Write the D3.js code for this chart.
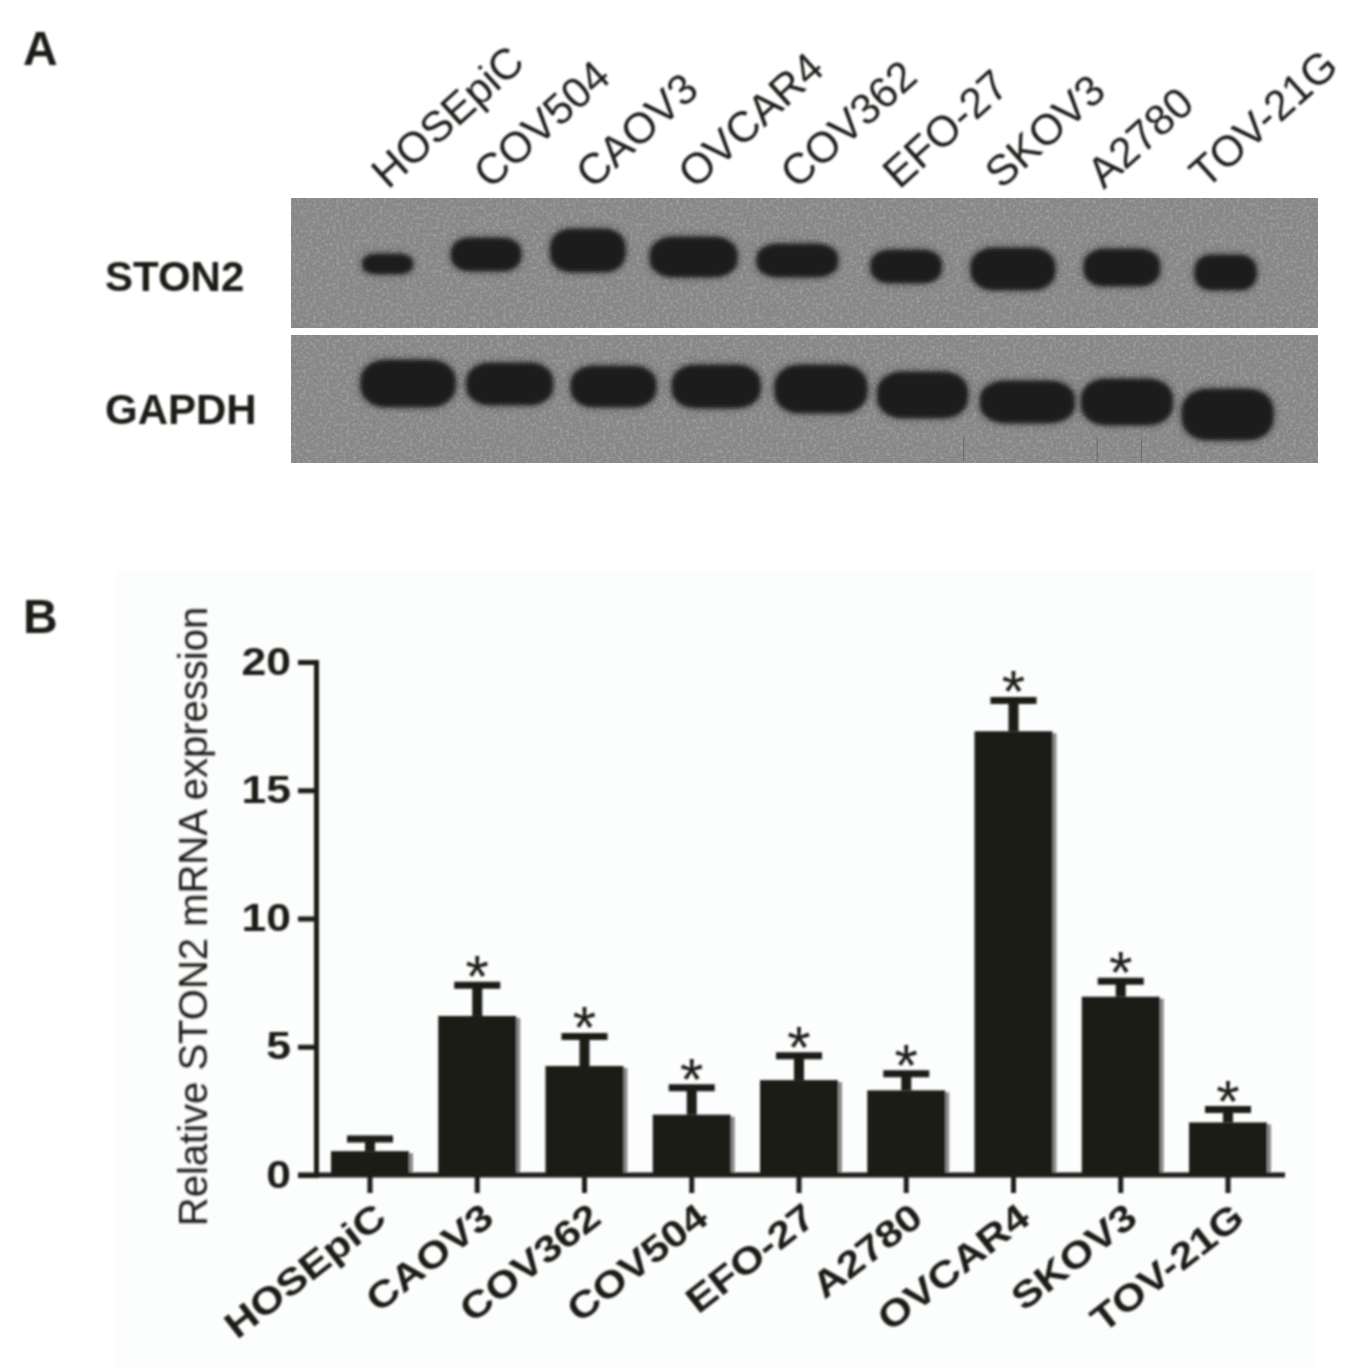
<!DOCTYPE html>
<html>
<head>
<meta charset="utf-8">
<script src="https://cdn.jsdelivr.net/npm/d3@7"></script>
<style>
  html, body { margin: 0; padding: 0; background: #fff; }
  svg { display: block; }
  text { font-family: "Liberation Sans", Arial, sans-serif; fill: #1c1a18; }
</style>
</head>
<body>
<svg id="fig"></svg>
<script>
const width = 1353;
const height = 1368;

// panel A, lane order on the membrane
const blotLanes = ["HOSEpiC", "COV504", "CAOV3", "OVCAR4", "COV362", "EFO-27", "SKOV3", "A2780", "TOV-21G"];

// band measurements, all in percent of the membrane width / height
const stonCenter = [9.4, 19.0, 28.9, 39.2, 49.3, 59.9, 70.3, 80.9, 91.0];
const stonWidth = [4.9, 6.8, 7.3, 8.5, 7.9, 6.9, 8.2, 7.4, 6.0];
const stonDepth = [50.8, 43.5, 40.4, 45.4, 48.1, 52.7, 54.6, 53.5, 57.3];
const stonThick = [15.4, 25.4, 33.0, 30.8, 25.4, 25.4, 32.3, 28.5, 26.9];

const gapdhCenter = [11.4, 21.3, 31.4, 41.4, 51.6, 61.5, 71.7, 81.4, 91.2];
const gapdhWidth = [9.2, 8.4, 8.3, 8.6, 9.0, 8.8, 9.2, 8.9, 8.9];
const gapdhDepth = [37.9, 38.3, 40.2, 40.2, 42.2, 46.9, 52.3, 52.3, 62.1];
const gapdhThick = [36.7, 32.8, 32.0, 33.6, 37.5, 35.9, 32.8, 35.9, 39.8];

// thin scratches near the bottom of the GAPDH membrane, percent of width
const gapdhScratches = [65.5, 78.5, 82.8];

// panel B
const categories = ["HOSEpiC", "CAOV3", "COV362", "COV504", "EFO-27", "A2780", "OVCAR4", "SKOV3", "TOV-21G"];
const expression = [0.93, 6.2, 4.25, 2.35, 3.7, 3.3, 17.3, 6.95, 2.05];
const errorTop = [1.4, 7.4, 5.4, 3.4, 4.65, 3.95, 18.5, 7.55, 2.55];
const significant = [false, true, true, true, true, true, true, true, true];
const yTicks = [0, 5, 10, 15, 20];

const svg = d3.select("#fig").attr("width", width).attr("height", height);
const defs = svg.append("defs");

// slight softness, the source figure is an upscaled scan
defs.append("filter").attr("id", "soft")
  .attr("x", "-5%").attr("y", "-5%").attr("width", "110%").attr("height", "110%")
  .append("feGaussianBlur").attr("stdDeviation", 0.8);

defs.append("filter").attr("id", "bandBlur")
  .attr("x", "-20%").attr("y", "-30%").attr("width", "140%").attr("height", "160%")
  .append("feGaussianBlur").attr("stdDeviation", 2.2);

defs.append("filter").attr("id", "haloBlur")
  .attr("x", "-30%").attr("y", "-50%").attr("width", "160%").attr("height", "200%")
  .append("feGaussianBlur").attr("stdDeviation", 5);

const grain = defs.append("filter").attr("id", "grain")
  .attr("x", 0).attr("y", 0).attr("width", "100%").attr("height", "100%");
grain.append("feTurbulence").attr("type", "fractalNoise")
  .attr("baseFrequency", 0.3).attr("numOctaves", 2).attr("seed", 4);
grain.append("feColorMatrix").attr("type", "matrix")
  .attr("values", "0 0 0 0 1  0 0 0 0 1  0 0 0 0 1  0.9 0 0 0 -0.38");

// --- panel A ---
function drawBlot(top, h, centers, widths, depths, thicks, scratches) {
  const bx = d3.scaleLinear().domain([0, 100]).range([291, 1318]);
  const by = d3.scaleLinear().domain([0, 100]).range([top, top + h]);
  const g = svg.append("g");
  g.append("rect").attr("x", bx(0)).attr("y", by(0))
    .attr("width", bx(100) - bx(0)).attr("height", h).attr("fill", "#878787");
  g.append("rect").attr("x", bx(0)).attr("y", by(0))
    .attr("width", bx(100) - bx(0)).attr("height", h)
    .attr("fill", "#fff").attr("filter", "url(#grain)").attr("opacity", 0.5);

  g.selectAll("line.scratch").data(scratches).join("line")
    .attr("class", "scratch")
    .attr("x1", d => bx(d)).attr("x2", d => bx(d))
    .attr("y1", by(80)).attr("y2", by(99))
    .attr("stroke", "#555").attr("stroke-width", 1).attr("opacity", 0.6);

  // faint halo first, then the dark band itself
  ["halo", "band"].forEach(kind => {
    g.selectAll(`rect.${kind}`).data(centers).join("rect")
      .attr("class", kind)
      .attr("x", (d, i) => bx(d - widths[i] / 2))
      .attr("y", (d, i) => by(depths[i] - thicks[i] / 2))
      .attr("width", (d, i) => bx(widths[i]) - bx(0))
      .attr("height", (d, i) => by(thicks[i]) - by(0))
      .attr("rx", (d, i) => (bx(widths[i]) - bx(0)) * 0.27)
      .attr("ry", (d, i) => (by(thicks[i]) - by(0)) * 0.42)
      .attr("fill", "#1d1d1d")
      .attr("opacity", kind === "halo" ? 0.45 : 1)
      .attr("filter", kind === "halo" ? "url(#haloBlur)" : "url(#bandBlur)");
  });
}
drawBlot(198, 130, stonCenter, stonWidth, stonDepth, stonThick, []);
drawBlot(335, 128, gapdhCenter, gapdhWidth, gapdhDepth, gapdhThick, gapdhScratches);

const textLayer = svg.append("g").attr("filter", "url(#soft)");

textLayer.append("text").attr("x", 23).attr("y", 65)
  .attr("font-size", 48).attr("font-weight", "bold").text("A");
textLayer.append("text").attr("x", 23).attr("y", 633)
  .attr("font-size", 48).attr("font-weight", "bold").text("B");

textLayer.append("text").attr("x", 105).attr("y", 291)
  .attr("font-size", 42).attr("font-weight", "bold").text("STON2");
textLayer.append("text").attr("x", 105).attr("y", 424)
  .attr("font-size", 42).attr("font-weight", "bold").text("GAPDH");

const laneScale = d3.scalePoint().domain(blotLanes).range([388, 1206]);
textLayer.selectAll("text.lane").data(blotLanes).join("text")
  .attr("class", "lane")
  .attr("transform", d => `translate(${laneScale(d)},190) rotate(-42)`)
  .attr("font-size", 43)
  .attr("fill", "#2a2a2a")
  .text(d => d);

// --- panel B ---
svg.insert("rect", "g").attr("x", 115).attr("y", 570).attr("width", 1200).attr("height", 798)
  .attr("fill", "#fcfdfd");

const margin = { top: 662, left: 316, right: 1285, bottom: 1175 };
const x = d3.scaleBand().domain(categories).range([331, 1267]).paddingInner(0.273).paddingOuter(0);
const y = d3.scaleLinear().domain([0, 20]).range([margin.bottom, margin.top]);

const chart = svg.append("g").attr("filter", "url(#soft)");
const cx = d => x(d) + x.bandwidth() / 2;

// grey edge on the right of each bar
chart.selectAll("rect.edge").data(categories).join("rect")
  .attr("class", "edge")
  .attr("x", d => x(d) + 4)
  .attr("y", (d, i) => y(expression[i]) + 2)
  .attr("width", x.bandwidth())
  .attr("height", (d, i) => y(0) - y(expression[i]))
  .attr("fill", "#8a8a8a");

chart.selectAll("line.stem").data(categories).join("line")
  .attr("class", "stem")
  .attr("x1", cx).attr("x2", cx)
  .attr("y1", (d, i) => y(errorTop[i]))
  .attr("y2", (d, i) => y(expression[i]))
  .attr("stroke", "#1c1a18").attr("stroke-width", 10);

chart.selectAll("line.cap").data(categories).join("line")
  .attr("class", "cap")
  .attr("x1", d => cx(d) - 23).attr("x2", d => cx(d) + 23)
  .attr("y1", (d, i) => y(errorTop[i]))
  .attr("y2", (d, i) => y(errorTop[i]))
  .attr("stroke", "#1c1a18").attr("stroke-width", 7);

chart.selectAll("rect.bar").data(categories).join("rect")
  .attr("class", "bar")
  .attr("x", d => x(d))
  .attr("y", (d, i) => y(expression[i]))
  .attr("width", x.bandwidth())
  .attr("height", (d, i) => y(0) - y(expression[i]))
  .attr("fill", "#1c1a18");

chart.selectAll("text.star").data(categories.filter((d, i) => significant[i])).join("text")
  .attr("class", "star")
  .attr("x", cx)
  .attr("y", d => y(errorTop[categories.indexOf(d)]) + 12)
  .attr("text-anchor", "middle")
  .attr("font-size", 60)
  .text("*");

const yAxis = chart.append("g")
  .attr("transform", `translate(${margin.left},0)`)
  .call(d3.axisLeft(y).tickValues(yTicks).tickFormat(d3.format("d")).tickSize(18).tickPadding(7));

const xAxis = chart.append("g")
  .attr("transform", `translate(0,${margin.bottom})`)
  .call(d3.axisBottom(x).tickSize(18).tickPadding(6));

// baseline runs from the zero tick out past the last bar
xAxis.select(".domain").remove();
chart.append("line")
  .attr("x1", margin.left - 18).attr("x2", margin.right)
  .attr("y1", y(0)).attr("y2", y(0))
  .attr("stroke", "#1c1a18").attr("stroke-width", 5);

yAxis.select(".domain").attr("stroke", "#1c1a18").attr("stroke-width", 5);
[yAxis, xAxis].forEach(a => {
  a.selectAll(".tick line").attr("stroke", "#1c1a18").attr("stroke-width", 5);
});

yAxis.selectAll("text")
  .attr("font-family", "Liberation Sans")
  .attr("font-size", 38)
  .attr("font-weight", "bold")
  .attr("fill", "#1c1a18")
  .attr("x", -25 / 1.17)
  .attr("transform", "scale(1.17,1)");

xAxis.selectAll("text")
  .attr("font-family", "Liberation Sans")
  .attr("font-size", 37)
  .attr("font-weight", "bold")
  .attr("fill", "#1c1a18")
  .attr("text-anchor", "end")
  .attr("dy", "0.6em")
  .attr("transform", "rotate(-38) translate(-14,2) scale(1.17,1)");

chart.append("text")
  .attr("transform", `translate(207,${(605 + 1228) / 2}) rotate(-90)`)
  .attr("text-anchor", "middle")
  .attr("font-size", 40)
  .attr("fill", "#2a2a2a")
  .text("Relative STON2 mRNA expression");
</script>
</body>
</html>
